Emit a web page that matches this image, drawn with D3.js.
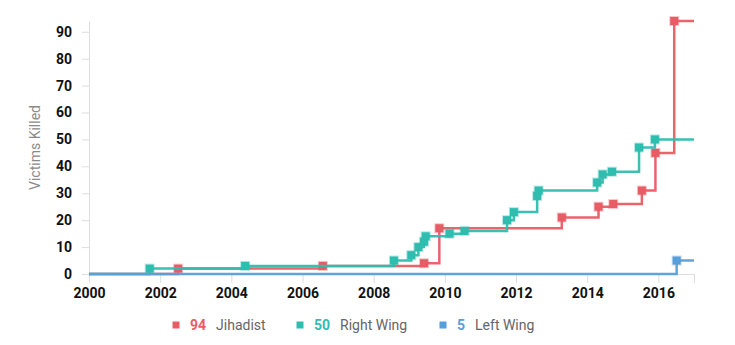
<!DOCTYPE html>
<html>
<head>
<meta charset="utf-8">
<script src="https://cdn.jsdelivr.net/npm/d3@7"></script>
<style>
  html, body { margin: 0; padding: 0; background: #fff; }
  svg { display: block; }
  .tick text { font-family: Roboto, "Open Sans", sans-serif; font-weight: 700; font-size: 14px; fill: #111; }
  .legend text { font-family: Roboto, "Open Sans", sans-serif; font-size: 14px; }
</style>
</head>
<body>
<svg id="chart" width="735" height="345"></svg>
<script>
// Cumulative victims killed, by ideology, dated by attack
const jihadistDates  = ["2002-07-04", "2006-07-28", "2009-06-01", "2009-11-05", "2013-04-15",
                        "2014-04-27", "2014-09-25", "2015-07-16", "2015-12-02", "2016-06-12"];
const jihadistTotals = [2, 3, 4, 17, 21, 25, 26, 31, 45, 94];

const rightWingDates  = ["2001-09-15", "2004-05-22", "2008-07-27", "2009-01-21", "2009-04-04",
                         "2009-05-31", "2009-06-18", "2010-02-18", "2010-07-22", "2011-10-01",
                         "2011-12-10", "2012-08-05", "2012-08-20", "2014-04-13", "2014-06-08",
                         "2014-09-12", "2015-06-17", "2015-11-27"];
const rightWingTotals = [2, 3, 5, 7, 10, 12, 14, 15, 16, 20, 23, 29, 31, 34, 37, 38, 47, 50];

const leftWingDates  = ["2016-07-07"];
const leftWingTotals = [5];

const seriesNames  = ["Jihadist", "Right Wing", "Left Wing"];
const seriesColors = ["#e85c65", "#2ebdaf", "#579fda"];

const xTickYears = [2000, 2002, 2004, 2006, 2008, 2010, 2012, 2014, 2016];
const yTicks = [0, 10, 20, 30, 40, 50, 60, 70, 80, 90];

const parse = d3.timeParse("%Y-%m-%d");
const start = new Date(2000, 0, 1);
const end = new Date(2017, 0, 1);

function buildSeries(name, color, dates, totals) {
  const events = dates.map((d, i) => ({ date: parse(d), value: totals[i] }));
  const path = [{ date: start, value: 0 }, ...events,
                { date: end, value: totals[totals.length - 1] }];
  return { name, color, events, path, total: totals[totals.length - 1] };
}

const series = [
  buildSeries(seriesNames[0], seriesColors[0], jihadistDates, jihadistTotals),
  buildSeries(seriesNames[1], seriesColors[1], rightWingDates, rightWingTotals),
  buildSeries(seriesNames[2], seriesColors[2], leftWingDates, leftWingTotals)
];

const svg = d3.select("#chart");
const margin = { left: 89, right: 41, top: 21, bottom: 71 };
const W = 735, H = 345;

const x = d3.scaleTime().domain([start, end]).range([margin.left, W - margin.right]);
const y = d3.scaleLinear().domain([0, 94]).range([H - margin.bottom, margin.top]);

// Y axis
const yAxis = svg.append("g")
  .attr("transform", `translate(${margin.left},0)`)
  .call(d3.axisLeft(y).tickValues(yTicks).tickSize(7).tickSizeOuter(0).tickPadding(10));
yAxis.select(".domain").attr("stroke", "#ddd");
yAxis.selectAll(".tick line").attr("stroke", "#ddd");

// X axis
const xAxis = svg.append("g")
  .attr("transform", `translate(0,${y(0)})`)
  .call(d3.axisBottom(x)
    .tickValues(xTickYears.map(yr => new Date(yr, 0, 1)))
    .tickFormat(d3.timeFormat("%Y"))
    .tickSize(9).tickSizeOuter(9).tickPadding(5));
xAxis.select(".domain").attr("stroke", "#ddd");
xAxis.selectAll(".tick line").attr("stroke", "#ddd");

// Axis title
svg.append("text")
  .attr("transform", `translate(40,${(margin.top + y(0)) / 2}) rotate(-90)`)
  .attr("text-anchor", "middle")
  .attr("font-family", "Roboto, 'Open Sans', sans-serif")
  .attr("font-size", 14)
  .attr("fill", "#8a8a8a")
  .text("Victims Killed");

// Step lines
const line = d3.line()
  .curve(d3.curveStepAfter)
  .x(d => x(d.date))
  .y(d => y(d.value));

const layers = svg.append("g");
series.forEach(s => {
  const g = layers.append("g");
  g.append("path")
    .datum(s.path)
    .attr("fill", "none")
    .attr("stroke", s.color)
    .attr("stroke-width", 2.5)
    .attr("stroke-opacity", 0.95)
    .attr("d", line);
  g.selectAll("rect")
    .data(s.events)
    .join("rect")
    .attr("x", d => x(d.date) - 4)
    .attr("y", d => y(d.value) - 4)
    .attr("width", 8)
    .attr("height", 8)
    .attr("fill", s.color)
    .attr("stroke", s.color)
    .attr("stroke-opacity", 0.35)
    .attr("stroke-width", 2);
});

// Legend
const legend = svg.append("g").attr("class", "legend");
const legendX = [176, 300, 443];
series.forEach((s, i) => {
  const g = legend.append("g").attr("transform", `translate(${legendX[i]},325)`);
  g.append("rect").attr("x", -3.5).attr("y", -3.5).attr("width", 7).attr("height", 7).attr("fill", s.color);
  const t = g.append("text").attr("x", 14).attr("dy", "0.35em");
  t.append("tspan").attr("font-weight", 700).attr("fill", s.color).text(s.total);
  t.append("tspan").attr("dx", 10).attr("fill", "#666").text(s.name);
});
</script>
</body>
</html>
